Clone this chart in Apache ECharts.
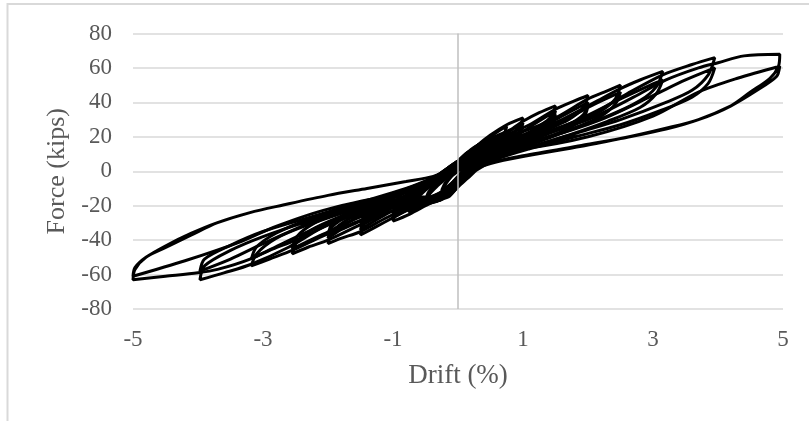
<!DOCTYPE html>
<html>
<head>
<meta charset="utf-8">
<script src="https://cdn.jsdelivr.net/npm/echarts@6/dist/echarts.min.js"></script>
<style>
html,body{margin:0;padding:0;background:#fff;}
#chart{width:809px;height:421px;}
</style>
</head>
<body>
<div id="chart"></div>
<script>
// Axis settings
const xTicks = [-5, -3, -1, 1, 3, 5];
const yTicks = [-80, -60, -40, -20, 0, 20, 40, 60, 80];

// Hysteresis loops (drift %, force kips), grouped by amplitude level
const loop025 = [[-0.1,-3],[0,1],[0.1,5],[0.2,9],[0.25,11],[0.2,7],[0.1,2],[0,-3],[-0.1,-7],[-0.2,-10],[-0.25,-12],[-0.2,-8],[-0.1,-3],
  [0,0],[0.1,4],[0.25,10],[0.2,6],[0.1,1],[0,-4],[-0.1,-8],[-0.25,-11],[-0.2,-7],[-0.1,-2]];
const loop050 = [[-0.15,-2],[0,3],[0.15,8],[0.3,14],[0.45,18],[0.5,20],[0.45,15],[0.3,9],[0.15,3],[0,-3],[-0.15,-9],[-0.3,-14],[-0.45,-18],[-0.5,-19],[-0.45,-14],[-0.3,-8],[-0.15,-3],
  [0,2],[0.15,7],[0.3,12],[0.5,18],[0.45,13],[0.3,7],[0.15,2],[0,-4],[-0.15,-9],[-0.3,-13],[-0.5,-18],[-0.45,-13],[-0.3,-7],[-0.15,-2],[0,2],
  [0.15,6],[0.3,11],[0.5,17],[0.45,12],[0.3,6],[0.15,1],[0,-5],[-0.15,-10],[-0.3,-13],[-0.5,-17],[-0.45,-12],[-0.3,-6],[-0.15,-1],[0,3]];
const loop075 = [[0,2],[0.15,8],[0.3,14],[0.5,20],[0.65,24],[0.75,26],[0.7,21],[0.5,13],[0.3,7],[0.15,2],[0,-4],[-0.15,-10],[-0.3,-15],[-0.5,-19],[-0.65,-22],[-0.75,-24],[-0.7,-19],[-0.5,-11],[-0.3,-6],[-0.15,-2],[0,2],
  [0.15,7],[0.3,12],[0.5,17],[0.75,23],[0.7,18],[0.5,11],[0.3,6],[0.15,1],[0,-5],[-0.15,-10],[-0.3,-14],[-0.5,-17],[-0.75,-22],[-0.7,-17],[-0.5,-10],[-0.3,-5],[-0.15,-1],[0,3],
  [0.15,6],[0.3,11],[0.5,16],[0.75,22],[0.7,17],[0.5,10],[0.3,5],[0.15,0],[0,-6],[-0.15,-10],[-0.3,-13],[-0.5,-16],[-0.75,-21],[-0.7,-16],[-0.5,-9],[-0.3,-4],[-0.15,0],[0,4]];
const loop100 = [[0,3],[0.15,9],[0.3,15],[0.5,21],[0.75,27],[1.0,31],[0.95,26],[0.8,20],[0.5,12],[0.3,6],[0.15,1],[0,-5],[-0.15,-11],[-0.3,-16],[-0.5,-20],[-0.75,-25],[-1.0,-29],[-0.95,-24],[-0.8,-18],[-0.5,-10],[-0.3,-5],[-0.15,-1],[0,3],
  [0.15,8],[0.3,13],[0.6,19],[1.0,28],[0.95,23],[0.75,17],[0.5,10],[0.3,5],[0.15,0],[0,-6],[-0.15,-11],[-0.3,-15],[-0.6,-19],[-1.0,-27],[-0.95,-22],[-0.75,-16],[-0.5,-9],[-0.3,-4],[-0.15,0],[0,4],
  [0.15,8],[0.3,12],[0.6,17],[1.0,26],[0.95,21],[0.75,15],[0.5,9],[0.3,4],[0.15,-1],[0,-7],[-0.15,-12],[-0.3,-14],[-0.6,-17],[-1.0,-25],[-0.95,-20],[-0.75,-14],[-0.5,-8],[-0.3,-3],[-0.15,1],[0,5]];
const loop150 = [[0,3],[0.15,9],[0.3,15],[0.5,19],[0.8,24],[1.0,29],[1.25,34],[1.5,38],[1.44,32],[1.25,26],[0.9,18],[0.5,10],[0.3,5],[0.15,1],[0,-5],[-0.15,-11],[-0.3,-16],[-0.5,-19],[-0.8,-23],[-1.0,-27],[-1.25,-32],[-1.5,-37],[-1.44,-30],[-1.25,-24],[-0.9,-16],[-0.5,-9],[-0.3,-5],[-0.15,-1],[0,3],
  [0.15,8],[0.3,13],[0.5,16],[0.9,21],[1.2,28],[1.5,35],[1.44,29],[1.2,22],[0.8,15],[0.5,9],[0.3,4],[0.15,0],[0,-6],[-0.15,-11],[-0.3,-15],[-0.5,-17],[-0.9,-21],[-1.2,-27],[-1.5,-34],[-1.44,-28],[-1.2,-21],[-0.8,-14],[-0.5,-8],[-0.3,-4],[-0.15,0],[0,4],
  [0.15,8],[0.3,12],[0.5,15],[0.9,19],[1.2,25],[1.5,33],[1.44,27],[1.2,20],[0.8,13],[0.5,8],[0.3,3],[0.15,-1],[0,-7],[-0.15,-12],[-0.3,-14],[-0.5,-16],[-0.9,-19],[-1.2,-25],[-1.5,-32],[-1.44,-26],[-1.2,-19],[-0.8,-12],[-0.5,-7],[-0.3,-3],[-0.15,1],[0,5]];
const loop200 = [[0,4],[0.15,10],[0.3,15],[0.5,18],[0.8,22],[1.1,27],[1.5,36],[1.8,41],[2.0,44],[1.93,37],[1.7,30],[1.3,23],[0.9,16],[0.5,9],[0.3,4],[0.15,0],[0,-6],[-0.15,-12],[-0.3,-17],[-0.5,-19],[-0.8,-22],[-1.1,-27],[-1.5,-35],[-1.8,-39],[-2.0,-42],[-1.93,-35],[-1.7,-28],[-1.3,-21],[-0.9,-14],[-0.5,-8],[-0.3,-4],[-0.15,0],[0,4],
  [0.15,9],[0.3,13],[0.5,16],[1.0,21],[1.5,30],[1.8,36],[2.0,40],[1.93,33],[1.65,26],[1.2,19],[0.8,13],[0.5,8],[0.3,3],[0.15,-1],[0,-7],[-0.15,-12],[-0.3,-15],[-0.5,-17],[-1.0,-21],[-1.5,-29],[-1.8,-34],[-2.0,-39],[-1.93,-32],[-1.65,-25],[-1.2,-18],[-0.8,-12],[-0.5,-7],[-0.3,-3],[-0.15,1],[0,5],
  [0.15,9],[0.3,12],[0.5,14],[1.0,19],[1.5,27],[2.0,38],[1.93,31],[1.65,24],[1.2,17],[0.8,12],[0.5,7],[0.3,2],[0.15,-2],[0,-8],[-0.15,-13],[-0.3,-15],[-0.5,-16],[-1.0,-19],[-1.5,-26],[-2.0,-37],[-1.93,-30],[-1.65,-23],[-1.2,-16],[-0.8,-11],[-0.5,-6],[-0.3,-2],[-0.15,2],[0,6]];
const loop250 = [[0,4],[0.15,10],[0.3,15],[0.5,18],[1.0,23],[1.5,31],[2.0,42],[2.25,46],[2.5,50],[2.42,42],[2.2,35],[1.8,28],[1.3,21],[0.8,13],[0.5,8],[0.3,3],[0.15,-1],[0,-7],[-0.15,-13],[-0.3,-17],[-0.5,-19],[-1.0,-23],[-1.5,-31],[-2.0,-40],[-2.3,-44],[-2.55,-48],[-2.48,-41],[-2.25,-34],[-1.85,-27],[-1.35,-20],[-0.85,-13],[-0.5,-7],[-0.3,-3],[-0.15,1],[0,5],
  [0.15,9],[0.3,13],[0.5,15],[1.0,20],[1.6,29],[2.1,39],[2.5,46],[2.42,39],[2.2,32],[1.8,25],[1.3,18],[0.8,11],[0.5,7],[0.3,2],[0.15,-2],[0,-8],[-0.15,-13],[-0.3,-16],[-0.5,-17],[-1.0,-20],[-1.6,-28],[-2.1,-37],[-2.55,-45],[-2.48,-38],[-2.25,-31],[-1.85,-24],[-1.35,-17],[-0.85,-11],[-0.5,-6],[-0.3,-2],[-0.15,2],[0,6]];
const loop315 = [[0,5],[0.15,11],[0.3,15],[0.5,17],[1.0,21],[1.6,30],[2.1,40],[2.5,48],[2.8,53],[3.15,58],[3.05,49],[2.8,41],[2.3,32],[1.7,24],[1.1,16],[0.6,9],[0.3,3],[0.15,-2],[0,-8],[-0.15,-14],[-0.3,-17],[-0.5,-18],[-1.0,-21],[-1.6,-30],[-2.1,-38],[-2.55,-46],[-2.9,-51],[-3.18,-55],[-3.1,-48],[-2.8,-39],[-2.3,-31],[-1.6,-22],[-1.0,-14],[-0.5,-7],[-0.3,-3],[-0.15,1],[0,5],
  [0.15,10],[0.3,13],[0.5,15],[1.1,19],[1.8,29],[2.5,42],[2.9,49],[3.15,53],[3.05,45],[2.8,37],[2.3,29],[1.7,21],[1.1,14],[0.6,8],[0.3,2],[0.15,-3],[0,-9],[-0.15,-14],[-0.3,-16],[-0.5,-16],[-1.1,-19],[-1.8,-28],[-2.5,-40],[-2.9,-46],[-3.18,-51],[-3.1,-44],[-2.8,-36],[-2.3,-28],[-1.6,-20],[-1.0,-13],[-0.5,-6],[-0.3,-2],[-0.15,2],[0,6]];
const loop400 = [[0,5],[0.15,11],[0.3,14],[0.6,16],[1.2,21],[2.0,32],[2.6,45],[3.15,56],[3.6,62],[3.95,66],[3.85,56],[3.6,47],[3.2,40],[2.5,30],[1.9,23],[1.2,15],[0.6,8],[0.3,2],[0.15,-3],[0,-8],[-0.15,-14],[-0.3,-17],[-0.6,-17],[-1.2,-21],[-2.0,-31],[-2.6,-44],[-3.18,-54],[-3.6,-59],[-3.97,-63],[-3.9,-55],[-3.5,-46],[-3.0,-38],[-2.3,-29],[-1.5,-20],[-0.8,-11],[-0.4,-5],[-0.2,-1],[0,5],
  [0.15,10],[0.3,13],[0.6,14],[1.3,19],[2.2,30],[3.0,44],[3.5,53],[3.95,60],[3.85,51],[3.6,43],[3.1,35],[2.5,27],[1.8,20],[1.1,13],[0.6,7],[0.3,1],[0.15,-4],[0,-9],[-0.15,-15],[-0.3,-16],[-0.6,-16],[-1.3,-19],[-2.2,-29],[-3.0,-42],[-3.5,-51],[-3.97,-58],[-3.9,-51],[-3.5,-43],[-3.0,-35],[-2.3,-27],[-1.5,-18],[-0.8,-10],[-0.4,-4],[-0.2,0],[0,5]];
const loop500 = [[0,6],[0.15,11],[0.3,13],[0.7,15],[1.2,20],[2.0,30],[2.7,43],[3.2,53],[3.7,60],[4.0,63],[4.4,67],[4.95,68],[4.93,61],[4.8,54],[4.5,46],[4.2,38],[3.7,30],[3.2,25],[2.5,19],[1.9,15],[1.0,9],[0.5,5],[0.25,1],[0.1,-3],[0,-8],[-0.15,-14],[-0.3,-16],[-0.7,-16],[-1.2,-20],[-2.0,-30],[-2.7,-42],[-3.2,-51],[-3.7,-57],[-4.0,-59],[-4.5,-61],[-5.0,-63],[-4.97,-57],[-4.8,-50],[-4.48,-44],[-4.1,-37],[-3.71,-30],[-3.2,-24],[-2.69,-19.6],[-2.0,-14],[-1.4,-10],[-0.8,-6],[-0.38,-3],[-0.15,1],[0,6],
  [0.15,10],[0.4,12],[1.0,13],[2.0,20],[3.0,32],[3.7,46],[4.3,54],[4.95,61],[4.9,55],[4.6,47],[4.2,38],[3.7,30],[3.2,24.5],[2.5,19],[1.9,14.5],[1.0,8.5],[0.5,4.5],[0.25,1],[0.1,-4],[0,-9],[-0.15,-14],[-0.4,-15],[-1.0,-15],[-2.0,-22],[-2.8,-32],[-3.35,-41],[-4.2,-52],[-5.0,-61],[-4.97,-56],[-4.8,-50],[-4.48,-43],[-4.1,-36],[-3.71,-30],[-3.2,-24],[-2.69,-19.6],[-2.0,-14],[-1.4,-10],[-0.8,-6],[-0.38,-3],[-0.15,1],[0,5]];

const loops = [loop025, loop050, loop075, loop100, loop150, loop200, loop250, loop315, loop400, loop500];

const font = 'Liberation Serif';
const textColor = '#595959';

const chart = echarts.init(document.getElementById('chart'), null, {renderer: 'canvas'});
const series = loops.map((d) => ({
  type: 'line',
  data: d,
  showSymbol: false,
  symbol: 'none',
  smooth: 0.3,
  lineStyle: {color: '#000', width: 3},
  animation: false,
  z: 3
}));
series.push({
  type: 'line',
  data: [],
  silent: true,
  markLine: {
    silent: true,
    symbol: ['none', 'none'],
    label: {show: false},
    lineStyle: {color: '#bfbfbf', width: 1.5, type: 'solid'},
    data: [{xAxis: 0}],
    animation: false
  },
  z: 1
});

chart.setOption({
  animation: false,
  backgroundColor: '#fff',
  grid: {left: 133, right: 26, top: 33.5, bottom: 112, containLabel: false},
  graphic: [{
    type: 'rect',
    shape: {x: 7.5, y: 4, width: 900, height: 600},
    style: {fill: 'none', stroke: '#d9d9d9', lineWidth: 2},
    silent: true,
    z: -1
  }],
  xAxis: {
    type: 'value',
    min: xTicks[0],
    max: xTicks[xTicks.length - 1],
    interval: 2,
    name: 'Drift (%)',
    nameLocation: 'middle',
    nameGap: 53,
    nameTextStyle: {fontFamily: font, fontSize: 27, color: textColor},
    axisLine: {show: false},
    axisTick: {show: false},
    splitLine: {show: false},
    axisLabel: {fontFamily: font, fontSize: 23, color: textColor, margin: 19}
  },
  yAxis: {
    type: 'value',
    min: yTicks[0],
    max: yTicks[yTicks.length - 1],
    interval: 20,
    name: 'Force (kips)',
    nameLocation: 'middle',
    nameGap: 62,
    nameTextStyle: {fontFamily: font, fontSize: 26, color: textColor},
    axisLine: {show: false},
    axisTick: {show: false},
    splitLine: {show: true, lineStyle: {color: '#d9d9d9', width: 1.5}},
    axisLabel: {fontFamily: font, fontSize: 23, color: textColor, margin: 21}
  },
  series: series
});
</script>
</body>
</html>
